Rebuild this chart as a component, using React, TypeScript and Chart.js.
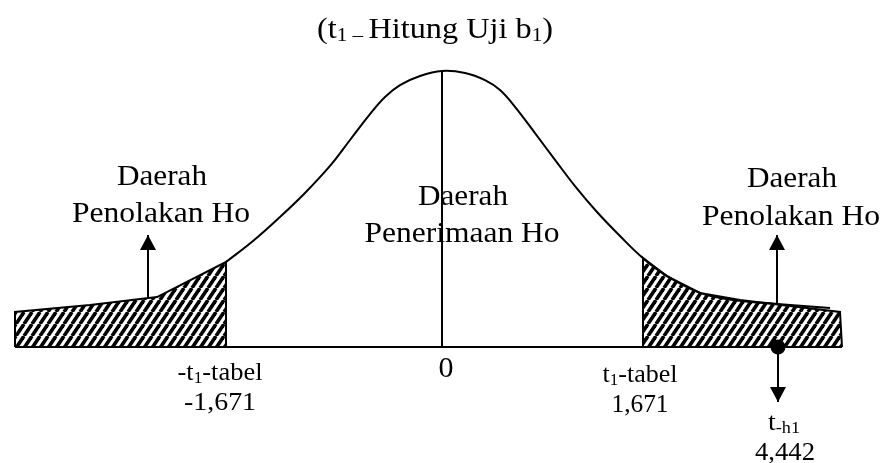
import React, { useEffect, useRef } from "react";
import { Chart, registerables } from "chart.js";

Chart.register(...registerables);

// ---- DATA (diagram units: x = position along the t axis, y = relative density) ----
const curveX = [-2.16, -1.89, -1.62, -1.37, -1.12, -0.92, -0.72, -0.57, -0.42, -0.22, 0, 0.23, 0.43, 0.58, 0.73, 0.93, 1.13, 1.33, 1.55, 1.78, 2.01, 2.25, 2.58, 2.91, 3.35, 3.88];
const curveY = [0.308, 0.384, 0.471, 0.558, 0.656, 0.75, 0.844, 0.906, 0.949, 0.982, 1.0, 0.993, 0.967, 0.931, 0.87, 0.775, 0.678, 0.583, 0.489, 0.402, 0.322, 0.257, 0.196, 0.17, 0.156, 0.141];

const leftTailX = [-4.27, -4.27, -3.52, -2.85, -2.16, -2.16];
const leftTailY = [0, 0.127, 0.152, 0.181, 0.308, 0];

const rightTailX = [2.01, 2.01, 2.25, 2.58, 2.98, 3.98, 4.0];
const rightTailY = [0, 0.322, 0.257, 0.196, 0.17, 0.127, 0];

const centerLineX = [0, 0];
const centerLineY = [0, 1.0];

const axisX = [-4.27, 4.0];
const axisY = [0, 0];

const arrowX = [-2.94, 3.35, 3.36];
const arrowFrom = [0.178, 0.156, 0];
const arrowTo = [0.406, 0.406, -0.199];

const dotX = [3.36];
const dotY = [0];

// ---- TEXT ----
type Part = { t: string; sub?: boolean };
const titleParts: Part[] = [
  { t: "(t" }, { t: "1", sub: true }, { t: " \u2013 ", sub: true }, { t: "Hitung Uji b" }, { t: "1", sub: true }, { t: ")" },
];
const regionLeft = ["Daerah", "Penolakan Ho"];
const regionCenter = ["Daerah", "Penerimaan Ho"];
const regionRight = ["Daerah", "Penolakan Ho"];
const leftCritParts: Part[] = [{ t: "-t" }, { t: "1", sub: true }, { t: "-tabel" }];
const rightCritParts: Part[] = [{ t: "t" }, { t: "1", sub: true }, { t: "-tabel" }];
const hitungParts: Part[] = [{ t: "t" }, { t: "-h1", sub: true }];
const critValues = ["-1,671", "1,671"];
const hitungValue = "4,442";
const zeroLabel = "0";

const FONT = "\"Liberation Serif\", \"Times New Roman\", Times, serif";

function drawRich(
  ctx: CanvasRenderingContext2D,
  parts: Part[],
  cx: number,
  baseline: number,
  size: number,
  targetWidth?: number
) {
  const subSize = Math.round(size * 0.66);
  const widths = parts.map((p) => {
    ctx.font = `${p.sub ? subSize : size}px ${FONT}`;
    return ctx.measureText(p.t).width;
  });
  const natural = widths.reduce((a, b) => a + b, 0);
  const sx = targetWidth ? targetWidth / natural : 1;
  ctx.save();
  ctx.translate(cx, baseline);
  ctx.scale(sx, 1);
  let x = -natural / 2;
  parts.forEach((p, i) => {
    ctx.font = `${p.sub ? subSize : size}px ${FONT}`;
    const y = p.sub ? size * 0.12 : 0;
    ctx.fillText(p.t, x, y);
    x += widths[i];
  });
  ctx.restore();
}

const pts = (xs: number[], ys: number[]) => xs.map((x, i) => ({ x, y: ys[i] }));

function makeHatch(): CanvasPattern | string {
  const c = document.createElement("canvas");
  const w = 8;
  const h = 12;
  c.width = w;
  c.height = h;
  const g = c.getContext("2d");
  if (!g) return "#000";
  g.fillStyle = "#fff";
  g.fillRect(0, 0, w, h);
  g.strokeStyle = "#000";
  g.lineWidth = 3.6;
  for (let k = -1; k <= 1; k++) {
    g.beginPath();
    g.moveTo(k * w, h);
    g.lineTo(k * w + w, 0);
    g.stroke();
  }
  const pat = g.createPattern(c, "repeat");
  return pat || "#000";
}

const annotPlugin = {
  id: "annot",
  afterDatasetsDraw(chart: any) {
    const ctx: CanvasRenderingContext2D = chart.ctx;
    const xs = chart.scales.x;
    const ys = chart.scales.y;
    ctx.save();
    ctx.fillStyle = "#000";
    arrowX.forEach((ax, i) => {
      const px = xs.getPixelForValue(ax);
      const tip = ys.getPixelForValue(arrowTo[i]);
      const from = ys.getPixelForValue(arrowFrom[i]);
      const dir = tip < from ? 1 : -1;
      ctx.beginPath();
      ctx.moveTo(px, tip);
      ctx.lineTo(px - 8, tip + dir * 15);
      ctx.lineTo(px + 8, tip + dir * 15);
      ctx.closePath();
      ctx.fill();
    });
    ctx.textAlign = "left";
    ctx.textBaseline = "alphabetic";
    drawRich(ctx, titleParts, 435, 38, 29, 236);
    drawRich(ctx, [{ t: regionLeft[0] }], 162, 185, 30, 90);
    drawRich(ctx, [{ t: regionLeft[1] }], 161, 222, 30, 178);
    drawRich(ctx, [{ t: regionCenter[0] }], 463, 205, 30, 90);
    drawRich(ctx, [{ t: regionCenter[1] }], 462, 242, 30, 195);
    drawRich(ctx, [{ t: regionRight[0] }], 792, 187, 30, 90);
    drawRich(ctx, [{ t: regionRight[1] }], 791, 225, 30, 178);
    drawRich(ctx, [{ t: zeroLabel }], 446, 377, 29, 15);
    drawRich(ctx, leftCritParts, 220, 380, 26, 85);
    drawRich(ctx, [{ t: critValues[0] }], 220, 410, 26, 72);
    drawRich(ctx, rightCritParts, 640, 382, 26, 75);
    drawRich(ctx, [{ t: critValues[1] }], 640, 412, 26, 57);
    drawRich(ctx, hitungParts, 784, 430, 26, 32);
    drawRich(ctx, [{ t: hitungValue }], 785, 460, 26, 60);
    ctx.restore();
  },
};

export default function App() {
  const ref = useRef<HTMLCanvasElement | null>(null);
  useEffect(() => {
    if (!ref.current) return;
    const hatch = makeHatch();
    const line = (data: any[], extra: any = {}) => ({
      data,
      showLine: true,
      borderColor: "#000",
      borderWidth: 2,
      pointRadius: 0,
      fill: false,
      tension: 0,
      ...extra,
    });
    const chart = new Chart(ref.current, {
      type: "scatter",
      data: {
        datasets: [
          {
            data: pts(dotX, dotY),
            showLine: false,
            pointRadius: 7.5,
            pointBackgroundColor: "#000",
            pointBorderColor: "#000",
            pointBorderWidth: 0,
          },
          ...arrowX.map((ax, i) => line([{ x: ax, y: arrowFrom[i] }, { x: ax, y: arrowTo[i] }])),
          line(pts(centerLineX, centerLineY)),
          line(pts(curveX, curveY), { tension: 0.4 }),
          line(pts(axisX, axisY)),
          line(pts(rightTailX, rightTailY), { fill: "origin", backgroundColor: hatch }),
          line(pts(leftTailX, leftTailY), { fill: "origin", backgroundColor: hatch }),
        ] as any,
      },
      options: {
        animation: false,
        responsive: false,
        devicePixelRatio: 1,
        layout: { padding: 0, autoPadding: false },
        scales: {
          x: { type: "linear", min: -4.42, max: 4.43, display: false },
          y: { type: "linear", min: -0.4203, max: 1.2572, display: false },
        },
        plugins: {
          legend: { display: false },
          tooltip: { enabled: false },
          title: { display: false },
        },
      } as any,
      plugins: [annotPlugin],
    });
    return () => chart.destroy();
  }, []);
  return (
    <div style={{ position: "absolute", left: 0, top: 0, width: 885, height: 463, background: "#fff" }}>
      <canvas ref={ref} width={885} height={463} />
    </div>
  );
}
